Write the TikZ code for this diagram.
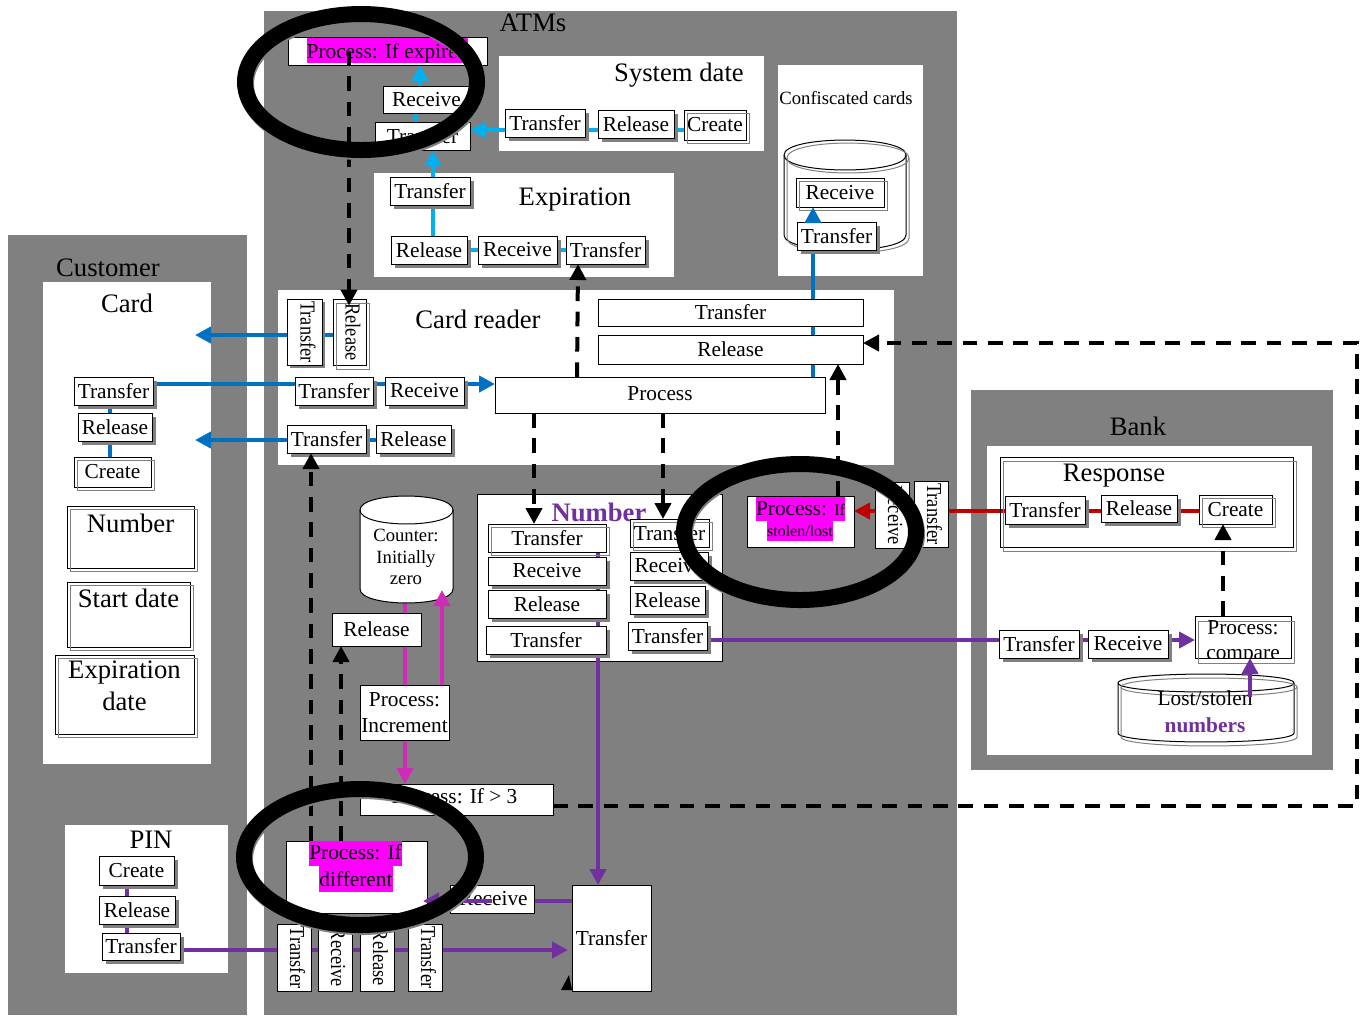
\documentclass[tikz,border=0pt]{standalone}
\usepackage{fontspec}
\usepackage{graphicx}
\setmainfont{Liberation Serif}
\usetikzlibrary{arrows.meta}
\pgfdeclarelayer{panel}\pgfdeclarelayer{conn}\pgfdeclarelayer{over}\pgfdeclarelayer{top}
\pgfsetlayers{panel,conn,main,over,top}
\definecolor{midgray}{HTML}{808080}
\definecolor{lblue}{HTML}{00B0F0}
\definecolor{dblue}{HTML}{0070C0}
\definecolor{purp}{HTML}{7030A0}
\definecolor{mage}{HTML}{D02AB8}
\definecolor{redl}{HTML}{C00000}
\definecolor{hilite}{HTML}{FF00FF}
\newcommand\fA{\fontsize{16}{19}\selectfont}
\newcommand\fB{\fontsize{20}{24}\selectfont}
\newcommand\fC{\fontsize{14}{16}\selectfont}
\newcommand\fD{\fontsize{12}{14}\selectfont}
\newcommand\baseat[2]{\raisebox{#1}[0pt][0pt]{#2}}
\tikzset{
  x=0.75pt,y=-0.75pt,
  boxbase/.style={draw=black,line width=0.75pt,fill=white,inner sep=0pt,outer sep=0pt,align=center,font=\fA},
  hl/.style={draw=none,fill=hilite},
  shadowfill/.style={fill=midgray},
  ghostline/.style={draw=midgray,line width=0.75pt},
  plain/.style={inner sep=0pt,outer sep=0pt,align=center,font=\fA},
  title/.style={plain,font=\fB},
  tipped/.style={-{Triangle[length=12pt,width=12pt]}},
  wire/.style={line width=3pt},
  lbl/.style={wire,lblue},
  dbl/.style={wire,dblue},
  pur/.style={wire,purp},
  mag/.style={wire,mage},
  redw/.style={wire,redl},
  dashw/.style={wire,black,dash pattern=on 11pt off 8pt},
  ring/.style={line width=12pt}
}
\newcommand\core[7][]{%
  \pgfmathsetmacro\cw{(#5-#3)*.75}\pgfmathsetmacro\ch{(#6-#4)*.75}%
  \node[boxbase,minimum width=\cw pt,minimum height=\ch pt,#1] (#2) at ({(#3+#5)/2},{(#4+#6)/2}) {#7};}
\newcommand\bs[7][]{\fill[shadowfill] ({#3+3.5},{#4+3.5}) rectangle ({#5+3.5},{#6+3.5});\core[#1]{#2}{#3}{#4}{#5}{#6}{#7}}
\newcommand\bg[7][]{\core[#1]{#2}{#3}{#4}{#5}{#6}{#7}\draw[ghostline] ({#3+3},{#4+3}) rectangle ({#5+3},{#6+3});}
\newcommand\vb[6]{%
  \pgfmathsetmacro\cw{(#5-#3)*.75}\pgfmathsetmacro\ch{(#6-#4)*.75}%
  \node[boxbase,rotate=-90,minimum width=\ch pt,minimum height=\cw pt] (#2) at ({(#3+#5)/2},{(#4+#6)/2}) {\baseat{-3pt}{\scalebox{.86}[1]{#1}}};}
\newcommand\cyl[6][]{%
  \pgfmathsetmacro\yt{#3+#6}\pgfmathsetmacro\yb{#5-#6}\pgfmathsetmacro\ka{1.33*#6}%
  \draw[line width=0.75pt,#1] (#2,\yt) -- (#2,\yb) .. controls (#2,\yb+\ka) and (#4,\yb+\ka) .. (#4,\yb) -- (#4,\yt) .. controls (#4,\yt-\ka) and (#2,\yt-\ka) .. cycle;
  \draw[line width=0.75pt,#1,fill=none] (#2,\yt) .. controls (#2,\yt+\ka) and (#4,\yt+\ka) .. (#4,\yt);}
\begin{document}
\begin{tikzpicture}
\useasboundingbox (0,0) rectangle (1363,1015);
\begin{pgfonlayer}{panel}
  \fill[midgray] (264,11) rectangle (957,1015);
  \fill[midgray] (8,235) rectangle (247,1015);
  \fill[midgray] (971,390) rectangle (1333,770);
  \fill[white] (43,282) rectangle (211,764);
  \fill[white] (65,825) rectangle (228,973);
  \fill[white] (499,56) rectangle (764,151);
  \fill[white] (374,173) rectangle (674,277);
  \fill[white] (778,65) rectangle (923,276);
  \fill[white] (278,290) rectangle (894,465);
  \fill[white] (987,446) rectangle (1312,755);
  \draw[line width=0.75pt,fill=white] (477,494) rectangle (722,661);
\end{pgfonlayer}

% titles
\node[title] (tATM) at (533,23) {ATMs};
\node[title] (tSys) at (679,75) {System date};
\node[plain,font=\fC] (tConf) at (846,98) {Confiscated cards};
\node[title] (tExp) at (575,200) {Expiration};
\node[title] (tCust) at (108,268) {Customer};
\node[title] (tCard) at (127,303) {Card};
\node[title] (tRead) at (478,319) {Card reader};
\node[title] (tBank) at (1138,426) {Bank};
\node[title] (tPIN) at (151,840) {PIN};

% customer
\bs{cuT}{74}{377}{153}{405}{Transfer}
\bs{cuR}{78}{413}{152}{441}{Release}
\bg{cuC}{74}{457}{151}{487}{Create}
\bg[font=\fB]{cuN}{67}{506}{194}{568}{Number\\[-3pt]~}
\bg[font=\fB]{cuS}{67}{582}{190}{647}{Start date\\~}
\bg[font=\fB]{cuE}{55}{655}{194}{734}{Expiration\\date\vrule width 0pt depth 14pt}
% PIN
\bs{piC}{99}{856}{174}{885}{Create}
\bs{piR}{99}{896}{175}{924}{Release}
\bs{piT}{102}{933}{180}{960}{Transfer}

% top
\core{pExp}{288}{37}{487}{65}{}
\core[hl]{pExpT}{307}{38}{468}{63}{\baseat{-5.7pt}{Process: If expired}}
\core{atR}{383}{86}{470}{113}{Receive}
\core{atT}{375}{122}{470}{150}{Transfer}
\bs{syT}{505}{109}{585}{137}{Transfer}
\bs{syR}{598}{110}{674}{138}{Release}
\bg{syC}{684}{110}{746}{140}{Create}
\bs{exT}{390}{177}{470}{205}{Transfer}
\bs{exR}{391}{236}{467}{264}{Release}
\bs{exV}{478}{236}{557}{264}{Receive}
\bs{exX}{566}{236}{645}{264}{Transfer}

% confiscated
\cyl[fill=white]{784}{140}{906}{250}{15}
\cyl[draw=midgray]{787}{143}{909}{253}{15}
\bg{coR}{796}{178}{884}{207}{Receive}
\bs{coT}{797}{222}{876}{250}{Transfer}

% card reader
\fill[shadowfill] (290,302) rectangle (325,368);
\vb{Transfer}{crV}{287}{299}{322}{365}
\vb{Release}{crW}{333}{299}{366}{365}
\draw[ghostline] (336,303) rectangle (369,369);
\bs{crT}{295}{377}{373}{405}{Transfer}
\bs{crR}{385}{377}{464}{405}{Receive}
\bs{crL}{287}{425}{366}{453}{Transfer}
\bs{crS}{376}{425}{451}{453}{Release}
\core{crP}{495}{377}{825}{413}{\baseat{-3.8pt}{Process}}
\core{crA}{598}{299}{863}{326}{Transfer}
\core{crB}{598}{335}{863}{364}{Release}

% number
\node[plain,font=\fB\bfseries,text=purp] (tNum) at (599,512) {Number};
\bg{nuA}{488}{524}{606}{552}{Transfer}
\bs{nuB}{488}{557}{606}{585}{Receive}
\bs{nuC}{488}{590}{606}{618}{Release}
\bs{nuD}{486}{626}{606}{654}{Transfer}
\bg{nuE}{630}{519}{709}{547}{Transfer}
\bs{nuF}{630}{552}{708}{580}{Receive}
\bs{nuG}{630}{586}{705}{614}{Release}
\bs{nuH}{628}{622}{707}{650}{Transfer}

% stolen
\core{pSt}{747}{496}{854}{547}{}
\core[hl]{pStA}{757}{497}{844}{521}{\baseat{-4.5pt}{Process: {\fD If}}}
\core[hl,font=\fD]{pStB}{767}{521}{833}{541}{stolen/lost}
\vb{Receive}{stV}{875}{482}{909}{548}
\vb{Transfer}{stT}{914}{481}{948}{547}

% counter
\cyl[fill=white]{360}{496}{453}{603}{14}
\node[plain,font=\fC] (cnt) at (406,557) {Counter:\\Initially\\zero};
\core{coS}{332}{613}{421}{646}{Release}
\core{inc}{360}{685}{449}{740}{Process:\\Increment}
\core{ifT}{360}{784}{553}{815}{\baseat{-3pt}{Process: If > 3}\hspace*{3pt}}

% bottom
\core{pDi}{286}{841}{427}{913}{}
\core[hl]{pDiA}{310}{841}{401}{866}{\baseat{-4.5pt}{Process: If}}
\core[hl]{pDiB}{319}{866}{393}{892}{different}
\core{boR}{450}{885}{534}{913}{\hspace*{2pt}Receive}
\core{boT}{572}{885}{651}{991}{Transfer}
\fill[black] (561,990) -- (569,975) -- (572,990) -- cycle;
\vb{Transfer}{bvA}{277}{924}{311}{991}
\vb{Receive}{bvB}{318}{924}{352}{991}
\vb{Release}{bvC}{360}{924}{394}{991}
\vb{Transfer}{bvD}{408}{924}{442}{991}

% bank
\core[fill=none]{reB}{1000}{457}{1293}{547}{}
\draw[ghostline] (1003,461) rectangle (1296,551);
\node[title] (tResp) at (1114,476) {Response};
\bs{baT}{1005}{496}{1085}{524}{Transfer}
\bs{baR}{1101}{495}{1177}{522}{Release}
\bg{baC}{1199}{495}{1272}{524}{Create}
\core{cmp}{1195}{616}{1291}{658}{}
\draw[ghostline] (1198,621) rectangle (1294,663);
\begin{scope}
  \clip (1195,616) rectangle (1291,658);
  \node[plain] (cmpT) at (1243,642) {Process:\\compare};
\end{scope}
\bs{baS}{999}{630}{1079}{658}{Transfer}
\bs{baV}{1088}{630}{1168}{658}{Receive}
\cyl[fill=white]{1118}{674}{1294}{742}{9}
\cyl[draw=midgray]{1121}{678}{1297}{746}{9}
\node[plain] (los) at (1205,698) {Lost/stolen};
\node[plain,font=\fA\bfseries,text=purp] (nms) at (1205,725) {numbers};

% free ends
\coordinate (fa) at (195,335);
\coordinate (fb) at (195,440);
\coordinate (fc) at (1357,806);
\coordinate (fd) at (1357,343);

\begin{pgfonlayer}{conn}
  % light blue
  \draw[lbl,tipped] (syC.center |- 0,130) -- (syR.center |- 0,130) -- (atT.east |- 0,130);
  \draw[lbl] (exX.center |- 0,250) -- (exV.center |- 0,250) -- (exR.center |- 0,250);
  \draw[lbl] (exR.center -| 433,0) -- (exT.center -| 433,0);
  \draw[lbl,tipped] (exT.center -| 433,0) -- (atT.south -| 433,0);
  \draw[lbl] (atT.center -| 416,0) -- (atR.center -| 416,0);
  \draw[lbl,tipped] (atR.north -| 420,0) -- (pExp.south -| 420,0);
  % blue
  \draw[dbl,tipped] (crW.center |- fa) -- (crV.center |- fa) -- (fa);
  \draw[dbl,tipped] (cuT.east |- 0,384) -- (crT.center |- 0,384) -- (crR.center |- 0,384) -- (crP.west |- 0,384);
  \draw[dbl,tipped] (crS.center |- fb) -- (crL.center |- fb) -- (fb);
  \draw[dbl] (cuT.center -| 110,0) -- (cuC.center -| 110,0);
  \draw[dbl] (crP.center -| 813,0) -- (crB.center -| 813,0) -- (crA.center -| 813,0) -- (coT.center -| 813,0);
  % dashed
  \draw[dashw,tipped] (ifT.east |- fc) -- (fc) -- (fd) -- (crB.east |- fd);
  \draw[dashw,tipped] (pSt.north -| 838,0) -- (crB.south -| 838,0);
  % red
  \draw[redw] (baC.center |- 0,511) -- (baR.center |- 0,511) -- (baT.center |- 0,511) -- (stT.center |- 0,511);
  \draw[redw,tipped] (stT.center |- 0,511) -- (stV.center |- 0,511) -- (pSt.east |- 0,511);
  % purple
  \draw[pur,tipped] (nuH.east |- 0,640) -- (baS.center |- 0,640) -- (baV.center |- 0,640) -- (cmp.west |- 0,640);
  \draw[pur,tipped] (nuA.center -| 598,0) -- (nuD.center -| 598,0) -- (boT.north -| 598,0);
  \draw[pur] (boT.center |- 0,901) -- (boR.center |- 0,901);
  \draw[pur,tipped] (piT.east |- 0,950) -- (bvA.center |- 0,950) -- (bvB.center |- 0,950) -- (bvC.center |- 0,950) -- (bvD.center |- 0,950) -- ([xshift=-3pt]boT.west |- 0,950);
  \draw[pur] (piC.center -| 127,0) -- (piT.center -| 127,0);
  % magenta
  \draw[mag] (inc.north -| 405,0) -- (coS.center -| 405,0) -- (405,600);
  \draw[mag,tipped] (inc.south -| 405,0) -- (ifT.north -| 405,0);
\end{pgfonlayer}

\begin{pgfonlayer}{over}
  \draw[dashw,tipped] (pExp.center -| 349,0) -- ([yshift=-5pt]crW.west -| 349,0);
  \draw[dashw,tipped] (crP.north -| 577,0) -- (exX.south -| 578,0);
  \draw[dashw,tipped] (crP.south -| 534,0) -- (nuA.north -| 534,0);
  \draw[dashw,tipped] (crP.south -| 663,0) -- (nuE.north -| 663,0);
  \draw[dashw,tipped] (cmp.north -| 1223,0) -- (baC.south -| 1223,0);
  \draw[dashw,tipped] (pDi.north -| 311,0) -- (crL.south -| 311,0);
  \draw[dashw,tipped] (pDi.north -| 341,0) -- (coS.south -| 341,0);
  \draw[pur,tipped] (1250,697) -- (cmp.south -| 1250,0);
  \draw[mag,tipped] (inc.north -| 442,0) -- (442,590);
  \draw[dbl,tipped] (coT.north -| 813,0) -- (coR.south -| 813,0);
  \draw[pur,tipped] (boR.center |- 0,901) -- ([xshift=-3pt]pDi.east |- 0,901);
\end{pgfonlayer}

\begin{pgfonlayer}{top}
  \draw[ring,midgray] (362,84) ellipse [x radius=87pt,y radius=51pt];
  \draw[ring,midgray] (801,534) ellipse [x radius=87pt,y radius=51pt];
  \draw[ring,midgray] (361,859) ellipse [x radius=87pt,y radius=51pt];
  \draw[ring,black] (361,82) ellipse [x radius=87pt,y radius=51pt];
  \draw[ring,black] (800,532) ellipse [x radius=87pt,y radius=51pt];
  \draw[ring,black] (360,857) ellipse [x radius=87pt,y radius=51pt];
\end{pgfonlayer}
\end{tikzpicture}
\end{document}
